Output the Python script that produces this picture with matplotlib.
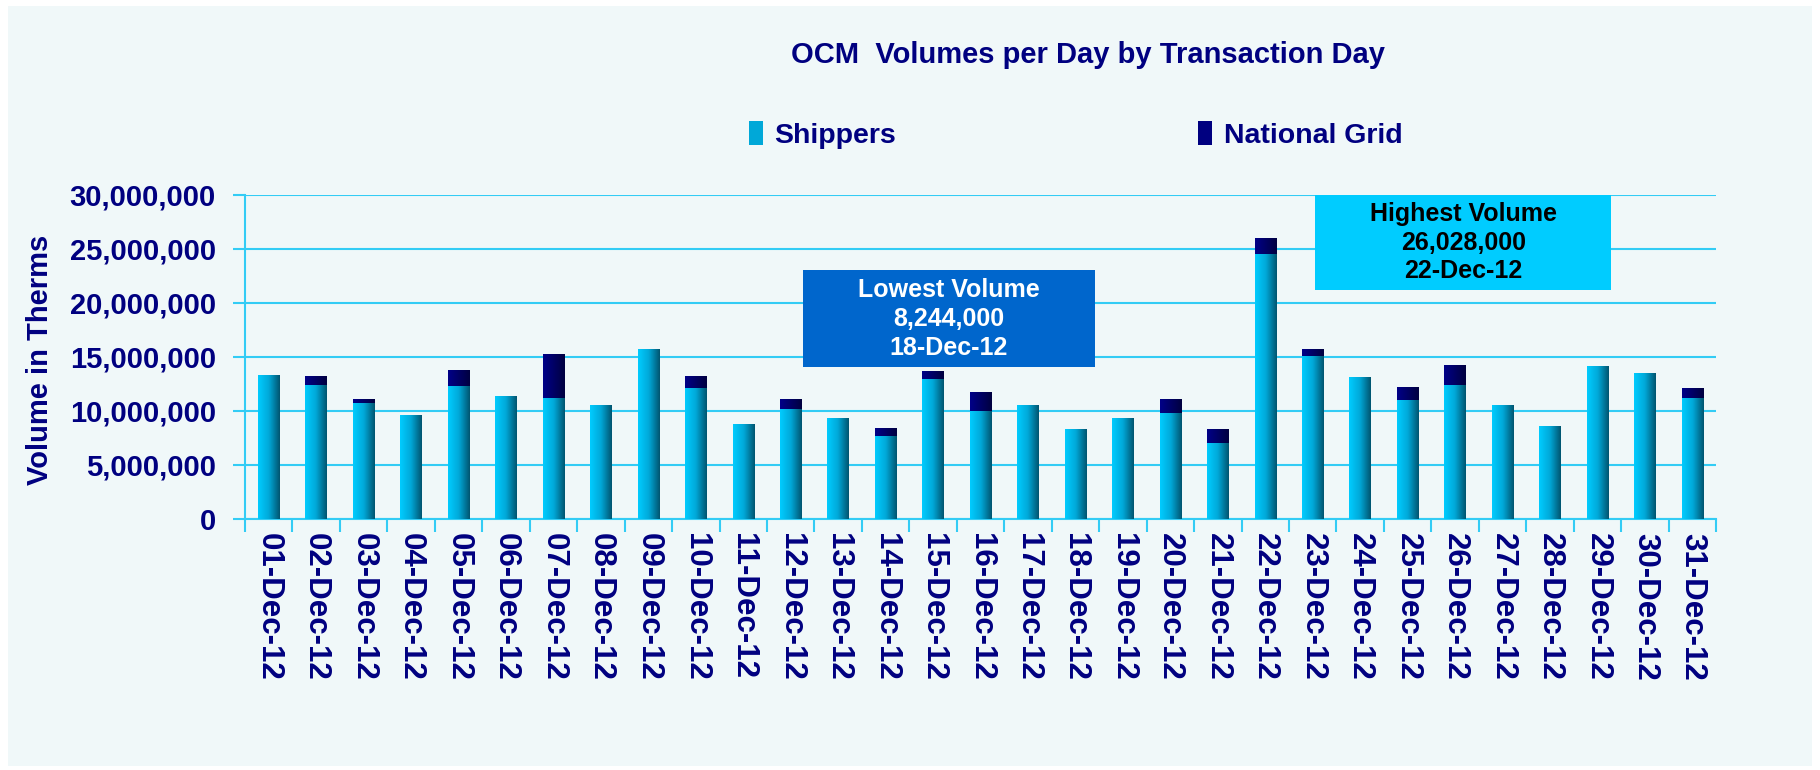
import numpy as np
import matplotlib
matplotlib.use("Agg")
import matplotlib.pyplot as plt
from matplotlib.colors import LinearSegmentedColormap
from matplotlib.patches import Rectangle, Patch
from matplotlib.ticker import FuncFormatter

plt.rcParams['font.family'] = ['Liberation Sans', 'DejaVu Sans']
plt.rcParams['font.weight'] = 'bold'

days = [f"{d:02d}-Dec-12" for d in range(1, 32)]
# volumes in millions of therms
shippers = [13.27, 12.44, 10.77, 9.57, 12.35, 11.33, 11.23, 10.49, 15.68, 12.16,
            8.73, 10.22, 9.29, 7.65, 12.99, 10.03, 10.49, 8.244, 9.29, 9.85,
            7.07, 24.57, 15.12, 13.09, 11.05, 12.44, 10.49, 8.55, 14.10, 13.46, 11.23]
national_grid = [0.0, 0.83, 0.37, 0.0, 1.48, 0.0, 3.99, 0.0, 0.0, 1.11,
                 0.0, 0.92, 0.0, 0.65, 0.65, 1.67, 0.0, 0.0, 0.0, 1.29,
                 1.29, 1.458, 0.56, 0.0, 1.20, 1.85, 0.0, 0.0, 0.0, 0.0, 0.84]

shippers = np.array(shippers) * 1e6
national_grid = np.array(national_grid) * 1e6
totals = shippers + national_grid

navy = '#000080'
grid_c = '#33CCF5'
bg = '#F0F8F9'

cm_ship = LinearSegmentedColormap.from_list('ship', ['#00CCFF', '#00A8D8', '#005570'])
cm_ng = LinearSegmentedColormap.from_list('ng', ['#000088', '#000040'])
grad = np.linspace(0, 1, 64).reshape(1, -1)

fig = plt.figure(figsize=(18.2, 7.7), dpi=100, facecolor='white')
fig.patches.append(Rectangle((8 / 1820, 4 / 770), 1804 / 1820, 760 / 770,
                             transform=fig.transFigure, facecolor=bg,
                             edgecolor='none', zorder=-10))

ax = fig.add_axes([0.1346, 0.326, 0.8083, 0.4208])
ax.set_facecolor(bg)

x = np.arange(len(days))
w = 0.45
b1 = ax.bar(x, shippers, w, color='none', zorder=3)
b2 = ax.bar(x, national_grid, w, bottom=shippers, color='none', zorder=3)

# gradient fill for each bar segment
for bars, cmap in ((b1, cm_ship), (b2, cm_ng)):
    for r in bars:
        h = r.get_height()
        if h <= 0:
            continue
        x0, y0 = r.get_x(), r.get_y()
        ax.imshow(grad, cmap=cmap, aspect='auto', zorder=3,
                  extent=(x0, x0 + r.get_width(), y0, y0 + h))

ax.set_xlim(-0.5, len(days) - 0.5)
ax.set_ylim(0, 30e6)
ax.set_yticks(np.arange(0, 30e6 + 1, 5e6))
ax.yaxis.set_major_formatter(FuncFormatter(lambda v, p: f"{int(v):,}"))
ax.grid(axis='y', color=grid_c, lw=1.5, zorder=1)
ax.set_axisbelow(True)

ax.set_xticks(x)
ax.set_xticklabels(days, rotation=270, fontsize=22.5, color=navy, fontweight='bold')
ax.set_xticks(np.arange(-0.5, len(days)), minor=True)
ax.tick_params(axis='x', which='major', length=0, pad=10)
ax.tick_params(axis='x', which='minor', length=9, color=grid_c, width=1.5, direction='out')
ax.tick_params(axis='y', length=9, color=grid_c, width=1.5, labelsize=21,
               labelcolor=navy, pad=12)
for lab in ax.get_yticklabels():
    lab.set_fontweight('bold')

for s in ('top', 'right'):
    ax.spines[s].set_visible(False)
for s in ('left', 'bottom'):
    ax.spines[s].set_color(grid_c)
    ax.spines[s].set_linewidth(1.5)

ax.set_ylabel("Volume in Therms", fontsize=21, color=navy, fontweight='bold')
ax.yaxis.set_label_coords(-0.13, 0.49)

fig.text(0.598, 0.928, "OCM  Volumes per Day by Transaction Day", ha='center', va='center',
         fontsize=21, color=navy, fontweight='bold')

handles = [Patch(facecolor='#00A8D8', edgecolor='none'),
           Patch(facecolor=navy, edgecolor='none')]
leg = fig.legend(handles, ['Shippers', 'National Grid'], loc='center',
                 bbox_to_anchor=(0.591, 0.825), ncol=2, frameon=False,
                 handlelength=0.5, handleheight=0.9, handletextpad=0.4,
                 columnspacing=10.6, prop={'size': 20.5, 'weight': 'bold'})
for t in leg.get_texts():
    t.set_color(navy)

# callout boxes
lo = int(np.argmin(totals))
hi = int(np.argmax(totals))
ax.add_patch(Rectangle((0.3793, 0.469), 0.1985, 0.2995, transform=ax.transAxes,
                       facecolor='#0066CC', edgecolor='none', zorder=5))
ax.text(0.4786, 0.617, f"Lowest Volume\n{int(round(totals[lo], -3)):,}\n{days[lo]}",
        transform=ax.transAxes, ha='center', va='center', color='white',
        fontsize=18, fontweight='bold', linespacing=1.25, zorder=6)
ax.add_patch(Rectangle((0.7274, 0.7068), 0.2012, 0.2932, transform=ax.transAxes,
                       facecolor='#00CCFF', edgecolor='none', zorder=5))
ax.text(0.8284, 0.853, f"Highest Volume\n{int(round(totals[hi], -3)):,}\n{days[hi]}",
        transform=ax.transAxes, ha='center', va='center', color='black',
        fontsize=18, fontweight='bold', linespacing=1.25, zorder=6)

fig.savefig("out.png", dpi=100, facecolor=fig.get_facecolor())
